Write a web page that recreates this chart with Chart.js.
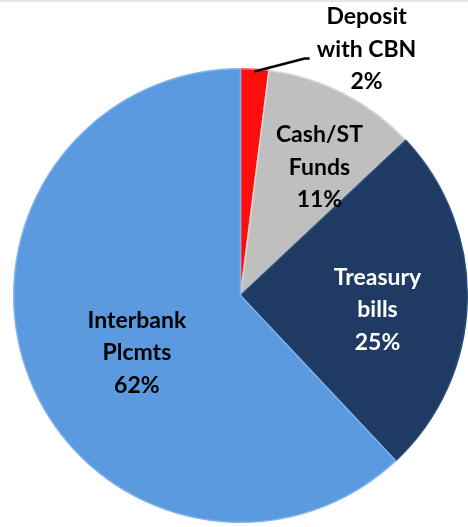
<!DOCTYPE html>
<html>
<head>
<meta charset="utf-8">
<script src="https://cdn.jsdelivr.net/npm/chart.js@4/dist/chart.umd.min.js"></script>
<style>
html,body{margin:0;padding:0;background:#fff;overflow:hidden;}
#wrap{position:relative;width:468px;height:527px;}
</style>
</head>
<body>
<div id="wrap"><canvas id="c" width="468" height="527"></canvas></div>
<script>
const categories = ["Deposit with CBN", "Cash/ST Funds", "Treasury bills", "Interbank Plcmts"];
const labelLines = [["Deposit", "with CBN"], ["Cash/ST", "Funds"], ["Treasury", "bills"], ["Interbank", "Plcmts"]];
const shares = [2, 11, 25, 62];
const sliceColors = ["#FF0D0D", "#BFBFBF", "#1F3B63", "#5B9ADF"];
const textColors = ["#000000", "#000000", "#FFFFFF", "#000000"];

// label placement: fraction of radius along mid-angle plus a small nudge
const labelRadius = [1.22, 0.66, 0.60, 0.52];
const labelNudge = [[5, 0], [11, 5], [1, 10], [6, 14]];

const labelPlugin = {
  id: 'sliceLabels',
  afterDatasetsDraw(chart) {
    const ctx = chart.ctx;
    const meta = chart.getDatasetMeta(0);
    ctx.save();
    ctx.fillStyle = '#e6e6e6';
    ctx.fillRect(0, 0, chart.width, 2);
    ctx.font = 'bold 23px Lato, "Open Sans", sans-serif';
    ctx.textAlign = 'center';
    ctx.textBaseline = 'middle';
    const lh = 32.5;
    meta.data.forEach((arc, i) => {
      const p = arc.getProps(['x','y','startAngle','endAngle','outerRadius'], true);
      const mid = (p.startAngle + p.endAngle) / 2;
      let cx, cy;
      if (i === 0) {
        const ex = p.x + Math.cos(mid) * p.outerRadius * 0.99;
        const ey = p.y + Math.sin(mid) * p.outerRadius * 0.99;
        const kx = ex + 50, ky = ey - 13;
        ctx.strokeStyle = '#000';
        ctx.lineWidth = 2.5;
        ctx.beginPath();
        ctx.moveTo(ex, ey);
        ctx.lineTo(kx, ky);
        ctx.lineTo(kx + 5, ky);
        ctx.stroke();
        cx = kx + 57 + labelNudge[i][0]; cy = ky - 9 + labelNudge[i][1];
      } else {
        cx = p.x + Math.cos(mid) * p.outerRadius * labelRadius[i] + labelNudge[i][0];
        cy = p.y + Math.sin(mid) * p.outerRadius * labelRadius[i] + labelNudge[i][1];
      }
      const lines = labelLines[i].concat([shares[i] + '%']);
      ctx.fillStyle = textColors[i];
      lines.forEach((t, k) => {
        ctx.fillText(t, cx, cy + (k - 1) * lh);
      });
    });
    ctx.restore();
  }
};

new Chart(document.getElementById('c'), {
  type: 'pie',
  data: {
    labels: categories,
    datasets: [{
      data: shares,
      backgroundColor: sliceColors,
      borderColor: ['#ff6060', '#d8d8d8', '#2c4f80', '#7fb3ee'],
      borderWidth: 1.5
    }]
  },
  options: {
    responsive: false,
    animation: false,
    layout: { padding: { left: 13, right: 0, top: 68, bottom: 4 } },
    plugins: {
      legend: { display: false },
      tooltip: { enabled: false }
    }
  },
  plugins: [labelPlugin]
});
</script>
</body>
</html>
